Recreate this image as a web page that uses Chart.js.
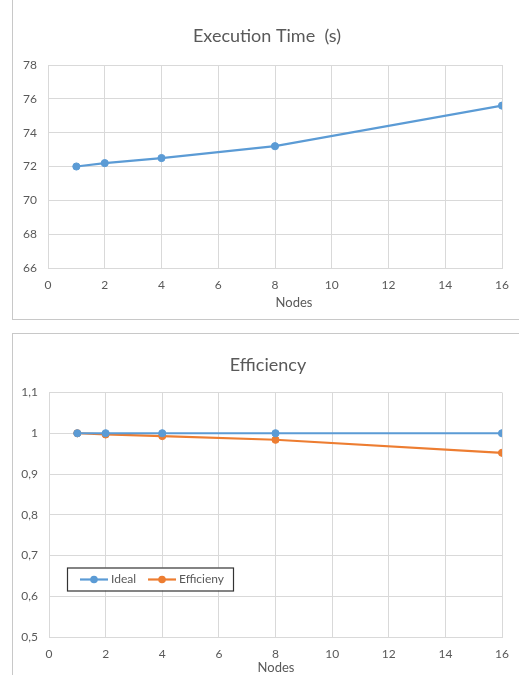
<!DOCTYPE html>
<html>
<head>
<meta charset="utf-8">
<script src="https://cdn.jsdelivr.net/npm/chart.js@4.4.1/dist/chart.umd.min.js"></script>
<style>
  html, body { margin: 0; padding: 0; background: #ffffff; overflow: hidden; }
  body { width: 519px; height: 675px; position: relative; }
  .frame { position: absolute; border: 1px solid #c8c8c8; box-sizing: border-box; }
  .wrap { position: absolute; left: 0; width: 519px; }
</style>
</head>
<body>
<div class="frame" style="left:12px; top:-2px; width:520px; height:322px;"></div>
<div class="frame" style="left:12px; top:333px; width:520px; height:360px;"></div>
<div class="wrap" style="top:0; height:319px;"><canvas id="timeChart" width="519" height="319"></canvas></div>
<div class="wrap" style="top:333px; height:342px;"><canvas id="effChart" width="519" height="342"></canvas></div>
<script>
// Benchmark results
const nodes = [1, 2, 4, 8, 16];
const execTime = [72.0, 72.2, 72.5, 73.2, 75.6];
const idealEff = [1, 1, 1, 1, 1];
const efficiency = [1, 0.997, 0.993, 0.984, 0.952];
const timeTicks = { min: 66, max: 78, step: 2 };
const effTicks = { min: 0.5, max: 1.1, step: 0.1 };
const nodeTicks = { min: 0, max: 16, step: 2 };

const BLUE = '#5B9BD5';
const ORANGE = '#ED7D31';
const GRID = '#D9D9D9';
const TEXT = '#595959';
const FONT = 'Lato, "Open Sans", sans-serif';

function pts(xs, ys) { return xs.map((x, i) => ({ x: x, y: ys[i] })); }

function lineDataset(label, data, color) {
  return {
    label: label,
    data: data,
    borderColor: color,
    backgroundColor: color,
    borderWidth: 2.2,
    pointRadius: 3.6,
    pointBorderWidth: 1,
    pointBackgroundColor: color,
    pointBorderColor: color,
    tension: 0
  };
}

function xScale(height) {
  return {
    type: 'linear',
    min: nodeTicks.min, max: nodeTicks.max,
    ticks: { stepSize: nodeTicks.step, color: TEXT, font: { family: FONT, size: 12 }, padding: 10, maxRotation: 0 },
    grid: { color: GRID, lineWidth: 1, drawTicks: false },
    border: { color: GRID },
    afterFit: function (s) { s.height = height; }
  };
}

function yScale(lim, width, fmt) {
  return {
    type: 'linear',
    min: lim.min, max: lim.max,
    ticks: { stepSize: lim.step, color: TEXT, font: { family: FONT, size: 12 }, padding: 11, callback: fmt },
    grid: { color: GRID, lineWidth: 1, drawTicks: false },
    border: { display: false },
    afterFit: function (s) { s.width = width; }
  };
}

// Chart heading and x-axis caption, centred inside the framed panel
const captions = {
  id: 'captions',
  afterDraw(chart, args, opts) {
    const ctx = chart.ctx;
    const a = chart.chartArea;
    ctx.save();
    ctx.fillStyle = TEXT;
    ctx.textAlign = 'center';
    ctx.textBaseline = 'middle';
    ctx.font = '18px ' + FONT;
    ctx.fillText(opts.title, opts.titleX, opts.titleY);
    ctx.font = '13px ' + FONT;
    ctx.fillText(opts.axis, (a.left + a.right) / 2 + opts.axisDx, a.bottom + opts.axisDy);
    ctx.restore();
  }
};

// Boxed legend drawn inside the plot area
const insideLegend = {
  id: 'insideLegend',
  afterDraw(chart, args, opts) {
    if (!opts.show) return;
    const ctx = chart.ctx;
    const a = chart.chartArea;
    const x0 = a.left + 18, y0 = a.top + 175, w = 166, h = 23;
    ctx.save();
    ctx.fillStyle = '#ffffff';
    ctx.fillRect(x0, y0, w, h);
    ctx.strokeStyle = '#333333';
    ctx.lineWidth = 1.2;
    ctx.strokeRect(x0 + 0.5, y0 + 0.5, w, h);
    ctx.font = '12px ' + FONT;
    ctx.textBaseline = 'middle';
    const cy = y0 + h / 2 + 0.5;
    let x = x0 + 13;
    chart.data.datasets.forEach(ds => {
      ctx.strokeStyle = ds.borderColor;
      ctx.lineWidth = 2.2;
      ctx.beginPath();
      ctx.moveTo(x, cy);
      ctx.lineTo(x + 28, cy);
      ctx.stroke();
      ctx.fillStyle = ds.borderColor;
      ctx.beginPath();
      ctx.arc(x + 14, cy, 3.8, 0, Math.PI * 2);
      ctx.fill();
      ctx.fillStyle = TEXT;
      ctx.fillText(ds.label, x + 31, cy);
      x += 31 + ctx.measureText(ds.label).width + 12;
    });
    ctx.restore();
  }
};
Chart.register(captions, insideLegend);

new Chart(document.getElementById('timeChart'), {
  type: 'line',
  data: { datasets: [lineDataset('Execution Time (s)', pts(nodes, execTime), BLUE)] },
  options: {
    responsive: false,
    animation: false,
    layout: { padding: { left: 0, right: 17, top: 65, bottom: 0 } },
    plugins: {
      legend: { display: false },
      tooltip: { enabled: false },
      title: { display: false },
      captions: { title: 'Execution Time  (s)', titleX: 267, titleY: 36.5, axis: 'Nodes', axisDx: 19, axisDy: 35 },
      insideLegend: { show: false }
    },
    scales: {
      x: xScale(51),
      y: yScale(timeTicks, 48, v => String(Math.round(v)))
    }
  }
});

new Chart(document.getElementById('effChart'), {
  type: 'line',
  data: {
    datasets: [
      lineDataset('Ideal', pts(nodes, idealEff), BLUE),
      lineDataset('Efficieny', pts(nodes, efficiency), ORANGE)
    ]
  },
  options: {
    responsive: false,
    animation: false,
    layout: { padding: { left: 0, right: 17, top: 59.5, bottom: 0 } },
    plugins: {
      legend: { display: false },
      tooltip: { enabled: false },
      title: { display: false },
      captions: { title: 'Efficiency', titleX: 268, titleY: 32, axis: 'Nodes', axisDx: 0.5, axisDy: 31 },
      insideLegend: { show: true }
    },
    scales: {
      x: xScale(38),
      y: yScale(effTicks, 49, v => String(Math.round(v * 10) / 10).replace('.', ','))
    }
  }
});
</script>
</body>
</html>
